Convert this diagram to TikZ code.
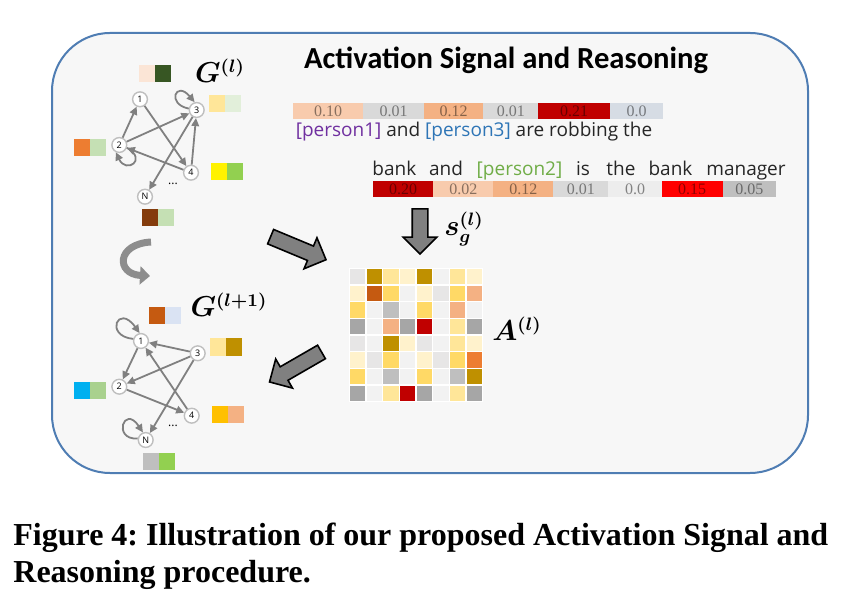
\documentclass[tikz,border=0pt]{standalone}
\usepackage{fontspec}
\setmainfont{Liberation Serif}
\setsansfont{Open Sans}
\newfontfamily\titlefont{Carlito}
\usepackage{bm}
\usetikzlibrary{arrows.meta,shapes.arrows}
\frenchspacing
\definecolor{frameBlue}{HTML}{4F7DB3}
\definecolor{panelGray}{HTML}{F7F7F7}
\definecolor{edgeGray}{HTML}{808080}
\definecolor{pPurple}{HTML}{7030A0}
\definecolor{pBlue}{HTML}{2E75B6}
\definecolor{pGreen}{HTML}{70AD47}
\definecolor{cPeach}{HTML}{F8CBAD}
\definecolor{cGray}{HTML}{D9D9D9}
\definecolor{cBlue}{HTML}{D6DCE4}
\definecolor{cLight}{HTML}{EDEDED}
\definecolor{cRed}{HTML}{FF0000}
\definecolor{hmA}{HTML}{E7E6E6}
\definecolor{hmB}{HTML}{BF9000}
\definecolor{hmC}{HTML}{FFE699}
\definecolor{hmD}{HTML}{FFF2CC}
\definecolor{hmE}{HTML}{F2F2F2}
\definecolor{hmF}{HTML}{C55A11}
\definecolor{hmG}{HTML}{FFD966}
\definecolor{hmH}{HTML}{F4B183}
\definecolor{hmI}{HTML}{BFBFBF}
\definecolor{hmJ}{HTML}{A6A6A6}
\definecolor{hmK}{HTML}{C00000}
\definecolor{hmL}{HTML}{ED7D31}
\definecolor{sqPeach}{HTML}{FBE5D6}
\definecolor{sqForest}{HTML}{375623}
\definecolor{sqPale}{HTML}{E2EFDA}
\definecolor{sqMint}{HTML}{C5E0B4}
\definecolor{sqLime}{HTML}{92D050}
\definecolor{sqBrown}{HTML}{843C0C}
\definecolor{sqSky}{HTML}{DAE3F3}
\definecolor{sqCyan}{HTML}{00B0F0}
\definecolor{sqGreen}{HTML}{A9D18E}
\definecolor{sqAmber}{HTML}{FFC000}

\begin{document}
\begin{tikzpicture}[x=0.5pt,y=-0.5pt,>=Latex,
 gnode/.style={circle,draw=hmI,fill=white,line width=0.7pt,minimum size=7.4pt,inner sep=0pt,font=\sffamily\fontsize{4.5}{5}\selectfont},
 gedge/.style={draw=edgeGray,line width=0.9pt,-{Triangle[length=4pt,width=3.8pt]}},
 bigarrow/.style={single arrow,draw=black,fill=edgeGray,line width=0.8pt,inner sep=3.5pt,single arrow head extend=4.5pt,minimum width=0pt},
 cellnum/.style={text=black,text opacity=0.45,font=\fontsize{8}{8}\selectfont,inner sep=0pt},
 sent/.style={text=black!85,font=\sffamily\fontsize{9.5}{10}\selectfont,inner sep=0pt},
 mathlbl/.style={font=\fontsize{13.5}{15}\selectfont,inner sep=1pt},
 sq/.style={minimum width=8pt,minimum height=8.5pt,inner sep=0pt}]
\useasboundingbox (0,0) rectangle (865,608);
\draw[frameBlue,line width=1pt,fill=panelGray,rounded corners=29pt] (52,33) rectangle (808,473);
\node[font=\titlefont\bfseries\fontsize{15.3}{17}\selectfont] (title) at (506,60) {Activation Signal and Reasoning};

% weighted words of the description
\foreach \a/\b/\c/\v [count=\i] in {292.7/363.3/cPeach/0.10,363.3/424/cGray/0.01,424/483.3/hmH/0.12,483.3/538.3/cGray/0.01,538.3/610/hmK/0.21,610/663.3/cBlue/0.0}{
 \fill[\c] (\a,102.7) rectangle (\b,119.3);
 \node[cellnum] (sa\i) at ({(\a+\b)/2},111) {\v};
}
\node[sent,anchor=base] (s1) at (474,137) {{\color{pPurple}[person1]} and {\color{pBlue}[person3]} are robbing the};
\foreach \x/\w [count=\i] in {394.4/bank,446/and,519.5/{\color{pGreen}[person2]},583/is,621/the,670.5/bank,746/manager}{
 \node[sent,anchor=base] (w\i) at (\x,176) {\w};
}
\foreach \a/\b/\c/\v [count=\i] in {372.7/433.3/hmK/0.20,433.3/493.3/cPeach/0.02,493.3/553.3/hmH/0.12,553.3/608.3/cGray/0.01,608.3/661.7/cLight/0.0,661.7/722.7/cRed/0.15,722.7/776/hmI/0.05}{
 \fill[\c] (\a,181) rectangle (\b,196.7);
 \node[cellnum] (sb\i) at ({(\a+\b)/2},189) {\v};
}

\node[bigarrow,minimum height=22.5pt,rotate=-90] (arrD) at (420,227.5) {};
\node[mathlbl] (sg) at (464,229) {$\bm{s_g^{(l)}}$};
\node[bigarrow,minimum height=30pt,rotate=-22.6] (arrR) at (294.7,246.7) {};
\node[bigarrow,minimum height=30pt,rotate=210] (arrL) at (298.9,365) {};

\foreach \cols [count=\r] in {{A,B,C,D,B,E,C,D},{D,F,G,E,D,A,G,H},{G,E,I,E,G,E,H,E},{J,E,H,J,K,E,C,J},{A,E,B,D,A,E,C,D},{D,A,G,E,D,A,G,L},{G,E,I,E,G,E,I,B},{J,E,C,K,J,E,C,J}}{
 \foreach \c [count=\k] in \cols {
  \fill[hm\c,draw=white,line width=0.6pt] ({349.3+16.67*(\k-1)},{268.3+16.67*(\r-1)}) rectangle ++(16.67,16.67);
 }
}
\node[mathlbl] (Al) at (517,329) {$\bm{A^{(l)}}$};

% graph at layer l
\node[mathlbl] (Gt) at (220,71) {$\bm{G^{(l)}}$};
\node[gnode] (t1) at (140,99.3) {1};
\node[gnode] (t3) at (196.7,110) {3};
\node[gnode] (t2) at (119.3,145) {2};
\node[gnode] (t4) at (191,172.7) {4};
\node[gnode] (tN) at (145,196.7) {N};
\node[font=\sffamily\fontsize{6}{6}\selectfont] (tdots) at (173,184) {...};
\draw[gedge] (t2)--(t1);
\draw[gedge] (t2)--(t3);
\draw[gedge] (t4)--(t2);
\draw[gedge] (t1)--(t4);
\draw[gedge] (t4)--(t3);
\draw[gedge] (t3)--(tN);
\draw[gedge] (t3.170) .. controls (166,104) and (176,80) .. (t3.105);
\draw[gedge] (t2.-20) .. controls (148,160) and (126,174) .. (t2.245);
\foreach \n/\x/\y/\ca/\cb in {t1/147/73.3/sqPeach/sqForest,t3/217/104/hmC/sqPale,t2/81.5/148/hmL/sqMint,t4/219/171.7/yellow/sqLime,tN/150/218/sqBrown/sqMint}{
 \node[sq,fill=\ca] (\n a) at (\x,\y) {};
 \node[sq,fill=\cb] (\n b) at (\x+16,\y) {};
}

\coordinate (cycA) at (151,242);
\coordinate (cycB) at (150,276);
\draw[edgeGray!90,line width=3.5pt,-{Triangle[length=5pt,width=9pt]}] (cycA) .. controls (116,244) and (116,274) .. (cycB);

% graph at layer l+1
\node[mathlbl] (Gb) at (229,305) {$\bm{G^{(l+1)}}$};
\node[gnode] (b1) at (141,341) {1};
\node[gnode] (b3) at (197.7,353.3) {3};
\node[gnode] (b2) at (119.3,386.7) {2};
\node[gnode] (b4) at (191.7,415.7) {4};
\node[gnode] (bN) at (145.7,440) {N};
\node[font=\sffamily\fontsize{6}{6}\selectfont] (bdots) at (173,426) {...};
\draw[gedge] (b3)--(b1);
\draw[gedge] (b1)--(b2);
\draw[gedge] (b3)--(b2);
\draw[gedge] (b2)--(b4);
\draw[gedge] (b4)--(b1);
\draw[gedge] (b3)--(bN);
\draw[gedge] (b1.165) .. controls (104,336) and (118,303) .. (b1.100);
\draw[gedge] (bN.170) .. controls (112,440) and (124,404) .. (bN.110);
\foreach \n/\x/\y/\ca/\cb in {b1/157/316/hmF/sqSky,b3/217.5/347/hmC/hmB,b2/82/390.5/sqCyan/sqGreen,b4/219.5/414.7/sqAmber/hmH,bN/150.5/461.3/hmI/sqLime}{
 \node[sq,fill=\ca] (\n a) at (\x,\y) {};
 \node[sq,fill=\cb] (\n b) at (\x+16,\y) {};
}

\node[font=\bfseries\fontsize{16}{18}\selectfont,anchor=base west,inner sep=0pt] (cap1) at (13,545) {Figure 4: Illustration of our proposed Activation Signal and};
\node[font=\bfseries\fontsize{16}{18}\selectfont,anchor=base west,inner sep=0pt] (cap2) at (13,582) {Reasoning procedure.};
\end{tikzpicture}
\end{document}
